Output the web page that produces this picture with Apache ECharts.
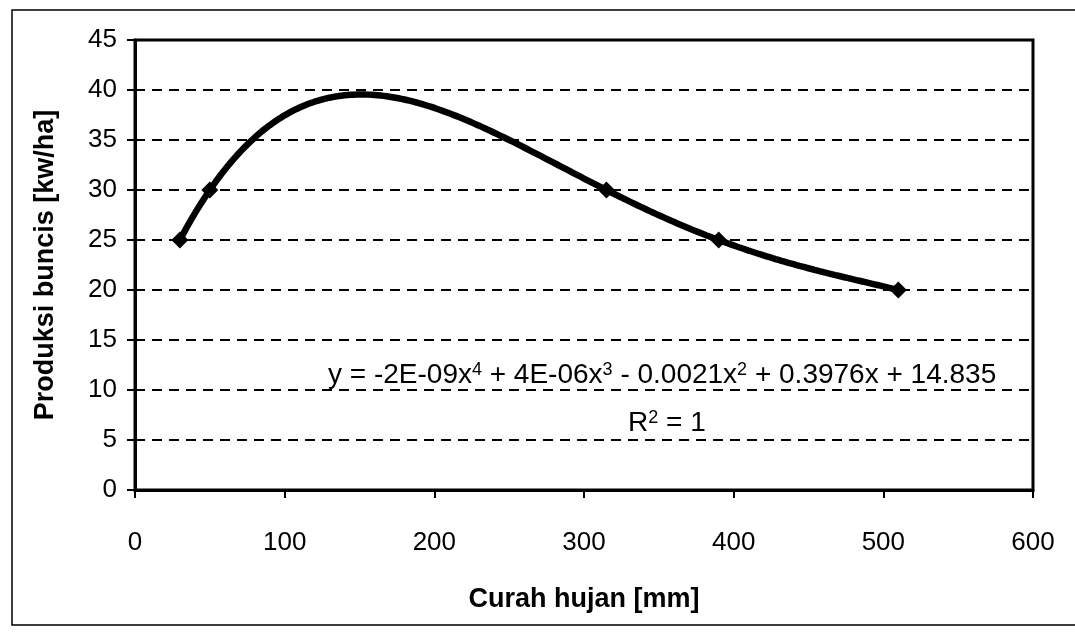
<!DOCTYPE html>
<html>
<head>
<meta charset="utf-8">
<title>Produksi buncis</title>
<script src="https://cdn.jsdelivr.net/npm/echarts@6/dist/echarts.min.js"></script>
<style>
  html, body { margin: 0; background: #fff; }
  #chart { width: 1075px; height: 635px; }
</style>
</head>
<body>
<div id="chart"></div>
<script>
// data
var curahHujan = [30, 50, 315, 390, 510];
var produksi = [25, 30, 30, 25, 20];
var trendOrder = 4;
var equationText = 'y = -2E-09x{s|4} + 4E-06x{s|3} - 0.0021x{s|2} + 0.3976x + 14.835';
var r2Text = 'R{s|2} = 1';

// polynomial trendline (least squares, like the spreadsheet does), x scaled by 100
function polyfit(xs, ys, order) {
  var n = order + 1, A = [], b = [];
  for (var i = 0; i < n; i++) {
    A.push([]);
    for (var j = 0; j < n; j++) {
      var s = 0;
      xs.forEach(function (x) { s += Math.pow(x / 100, i + j); });
      A[i].push(s);
    }
    var t = 0;
    xs.forEach(function (x, k) { t += ys[k] * Math.pow(x / 100, i); });
    b.push(t);
  }
  for (var c = 0; c < n; c++) {
    var p = c;
    for (var r = c + 1; r < n; r++) if (Math.abs(A[r][c]) > Math.abs(A[p][c])) p = r;
    var tmp = A[c]; A[c] = A[p]; A[p] = tmp;
    var tb = b[c]; b[c] = b[p]; b[p] = tb;
    for (var r2 = c + 1; r2 < n; r2++) {
      var f = A[r2][c] / A[c][c];
      for (var k = c; k < n; k++) A[r2][k] -= f * A[c][k];
      b[r2] -= f * b[c];
    }
  }
  var coef = new Array(n);
  for (var i2 = n - 1; i2 >= 0; i2--) {
    var s2 = b[i2];
    for (var j2 = i2 + 1; j2 < n; j2++) s2 -= A[i2][j2] * coef[j2];
    coef[i2] = s2 / A[i2][i2];
  }
  return function (x) {
    var y = 0;
    for (var q = 0; q < n; q++) y += coef[q] * Math.pow(x / 100, q);
    return y;
  };
}

var trend = polyfit(curahHujan, produksi, trendOrder);
var trendData = [];
var xStart = curahHujan[0], xEnd = curahHujan[curahHujan.length - 1];
for (var x = xStart; x <= xEnd; x += 2) trendData.push([x, trend(x)]);

var points = curahHujan.map(function (x, i) { return [x, produksi[i]]; });

var chart = echarts.init(document.getElementById('chart'));
var font = 'Liberation Sans, Arial, sans-serif';

chart.setOption({
  animation: false,
  grid: {
    left: 135, right: 42, top: 40, bottom: 145,
    show: true, borderColor: '#000', borderWidth: 3
  },
  xAxis: {
    type: 'value', min: 0, max: 600, interval: 100,
    name: 'Curah hujan [mm]', nameLocation: 'middle', nameGap: 96,
    nameTextStyle: { fontFamily: font, fontSize: 27, fontWeight: 'bold', color: '#000' },
    axisLine: { show: true, lineStyle: { color: '#000', width: 3 } },
    axisTick: { show: true, length: 8, lineStyle: { color: '#000', width: 2 } },
    axisLabel: { fontFamily: font, fontSize: 26, color: '#000', margin: 40 },
    splitLine: { show: false }
  },
  yAxis: {
    type: 'value', min: 0, max: 45, interval: 5,
    name: 'Produksi buncis [kw/ha]', nameLocation: 'middle', nameGap: 76,
    nameTextStyle: { fontFamily: font, fontSize: 27, fontWeight: 'bold', color: '#000' },
    axisLine: { show: true, lineStyle: { color: '#000', width: 3 } },
    axisTick: { show: true, length: 8, lineStyle: { color: '#000', width: 2 } },
    axisLabel: { fontFamily: font, fontSize: 26, color: '#000', margin: 18 },
    splitLine: { show: true, lineStyle: { color: '#000', width: 2, type: [10, 7] } }
  },
  graphic: [
    {
      type: 'rect', silent: true, z: -1,
      shape: { x: 12, y: 10, width: 1100, height: 615 },
      style: { fill: 'none', stroke: '#000', lineWidth: 1.5 }
    },
    {
      type: 'text', left: 328, top: 361, z: 10,
      style: {
        text: equationText, fill: '#000', font: '28px ' + font,
        rich: { s: { fontSize: 18, verticalAlign: 'top', fill: '#000', fontFamily: font } }
      }
    },
    {
      type: 'text', left: 628, top: 409, z: 10,
      style: {
        text: r2Text, fill: '#000', font: '28px ' + font,
        rich: { s: { fontSize: 18, verticalAlign: 'top', fill: '#000', fontFamily: font } }
      }
    }
  ],
  series: [
    {
      name: 'Poly. trend', type: 'line', data: trendData,
      showSymbol: false, smooth: false,
      lineStyle: { color: '#000', width: 6.5 }, z: 3
    },
    {
      name: 'Produksi', type: 'line', data: points,
      symbol: 'diamond', symbolSize: 17,
      itemStyle: { color: '#000' },
      lineStyle: { width: 0, opacity: 0 }, z: 4
    }
  ]
});
</script>
</body>
</html>
